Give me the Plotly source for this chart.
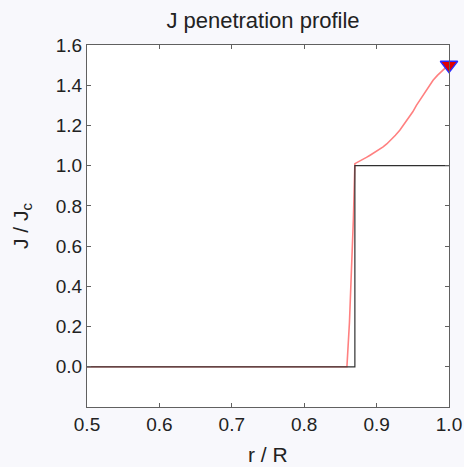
import plotly.graph_objects as go

# Critical-state (Bean) reference profile
bean_r = [0.5, 0.870, 0.870, 1.0]
bean_j = [0.0, 0.0, 1.0, 1.0]

# Computed penetration profile
prof_r = [0.5, 0.859, 0.8625, 0.8654, 0.868, 0.870, 0.875, 0.880, 0.886, 0.891, 0.896,
          0.900, 0.905, 0.909, 0.914, 0.920, 0.926, 0.932, 0.938, 0.944, 0.950, 0.955,
          0.961, 0.967, 0.973, 0.978, 0.984, 0.989, 0.995, 1.0]
prof_j = [0.0, 0.0, 0.22, 0.464, 0.74, 1.01, 1.019, 1.029, 1.041, 1.052, 1.063,
          1.071, 1.081, 1.093, 1.108, 1.128, 1.151, 1.176, 1.205, 1.236, 1.268, 1.30,
          1.333, 1.365, 1.396, 1.425, 1.449, 1.468, 1.486, 1.5]

# Surface marker
mark_r = [1.0]
mark_j = [1.5]

xticks = [0.5, 0.6, 0.7, 0.8, 0.9, 1.0]
yticks = [0.0, 0.2, 0.4, 0.6, 0.8, 1.0, 1.2, 1.4, 1.6]

fig = go.Figure()
fig.add_trace(go.Scatter(x=prof_r, y=prof_j, mode="lines",
                         line=dict(color="#ff8080", width=1.6),
                         showlegend=False))
fig.add_trace(go.Scatter(x=bean_r, y=bean_j, mode="lines",
                         line=dict(color="#303030", width=1.2), showlegend=False))
fig.add_trace(go.Scatter(x=mark_r, y=mark_j, mode="markers",
                         marker=dict(symbol="triangle-down", size=15, color="#e00000",
                                     line=dict(color="#2a2aff", width=1.5)),
                         cliponaxis=False, showlegend=False))

font = "Liberation Sans, Arial, Helvetica, sans-serif"
txt = "#222222"
axis_common = dict(showline=True, linecolor="#606060", linewidth=1.2, mirror="ticks",
                   ticks="inside", ticklen=4, tickcolor="#606060", tickwidth=1,
                   showgrid=False, zeroline=False, automargin=False,
                   tickfont=dict(family=font, size=19, color=txt))

fig.update_layout(
    width=464, height=467,
    margin=dict(l=87, r=15, t=45, b=60),
    paper_bgcolor="#f8f8fc", plot_bgcolor="#ffffff",
    title=dict(text="J penetration profile", xref="container", x=263 / 464, xanchor="center",
               yref="container", y=1 - 20 / 467, yanchor="middle",
               font=dict(family=font, size=22, color=txt)),
    xaxis=dict(range=[0.5, 1.0], tickvals=xticks, ticktext=[f"{v:.1f}" for v in xticks],
               **axis_common),
    yaxis=dict(range=[-0.2, 1.6], tickvals=yticks, ticktext=[f"{v:.1f}" for v in yticks],
               **axis_common),
    annotations=[
        dict(text="r / R", xref="paper", yref="paper", x=0.5, y=0, yshift=-47,
             xanchor="center", yanchor="middle", showarrow=False,
             font=dict(family=font, size=21, color=txt)),
        dict(text="J / J<sub>c</sub>", xref="paper", yref="paper", x=0, y=0.5, xshift=-65,
             xanchor="center", yanchor="middle", textangle=-90, showarrow=False,
             font=dict(family=font, size=21, color=txt)),
    ],
)

fig.write_html("out.html")
